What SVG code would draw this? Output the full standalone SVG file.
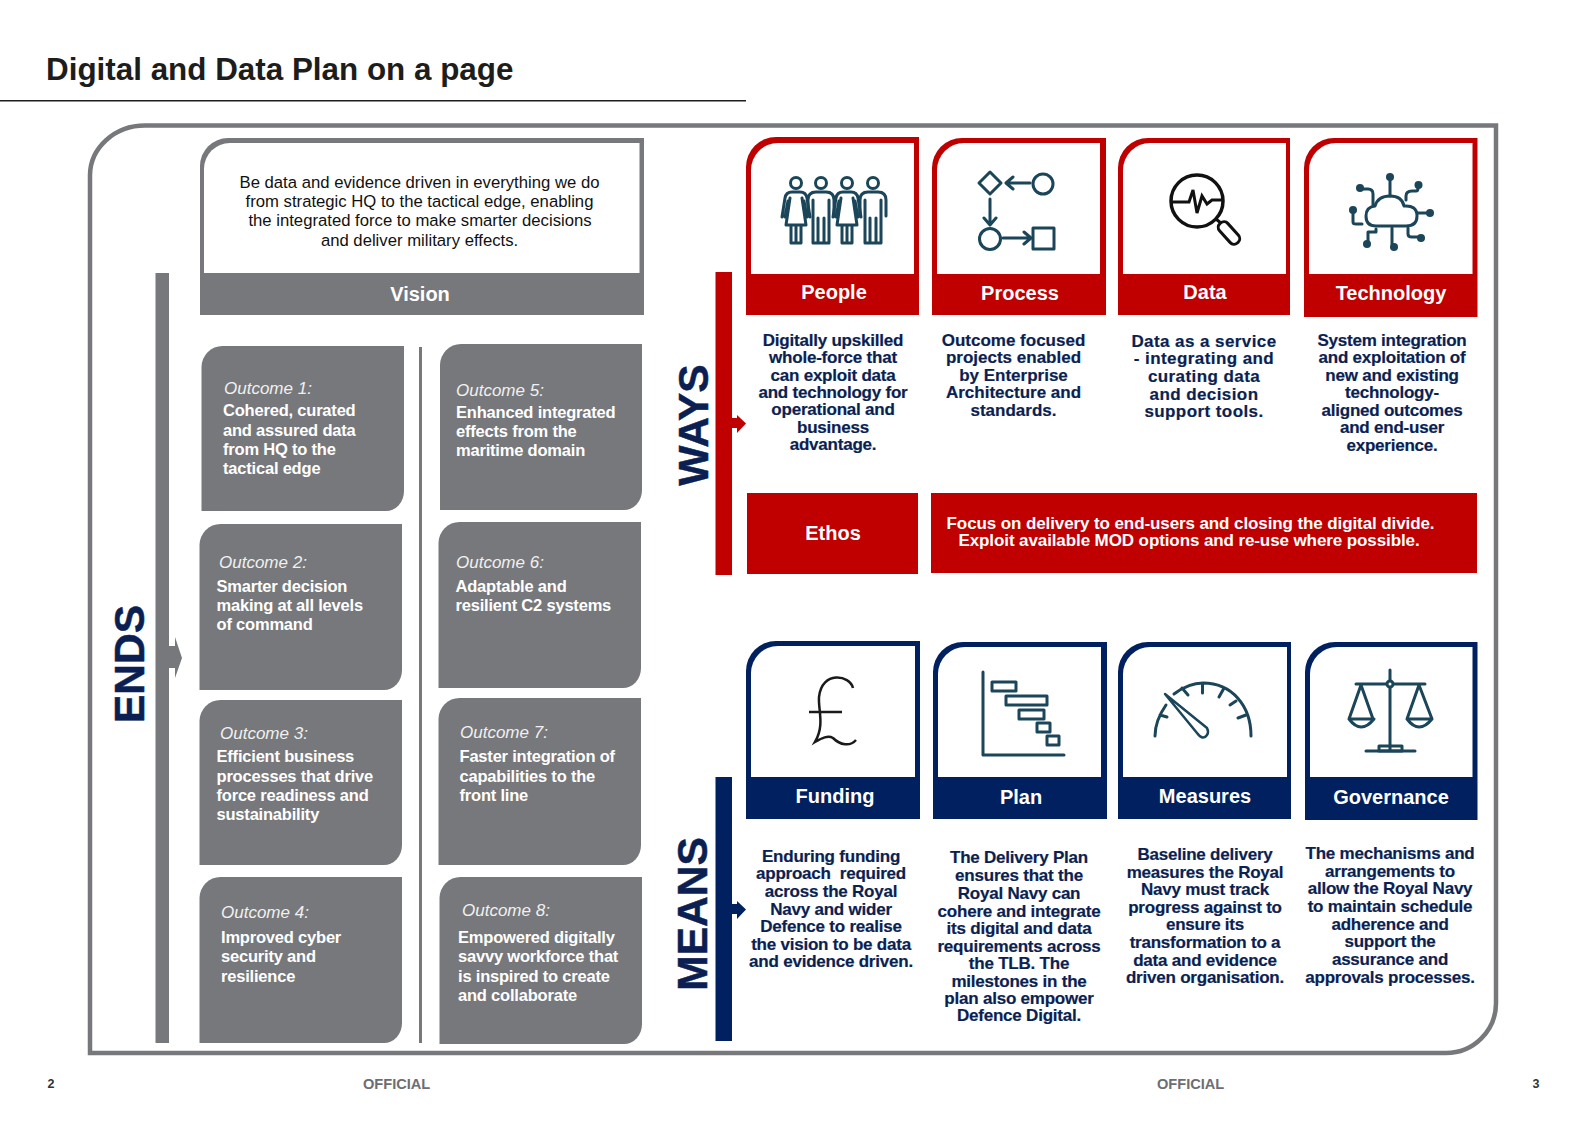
<svg xmlns="http://www.w3.org/2000/svg" xmlns:xlink="http://www.w3.org/1999/xlink" width="1587" height="1122" viewBox="0 0 1587 1122">
<style>
text{font-family:"Liberation Sans",Arial,sans-serif}
.t{font-weight:700;fill:#fff;text-anchor:middle;font-size:20px}
.d{font-weight:700;fill:#0b1f52;text-anchor:middle;font-size:17px;letter-spacing:-.22px;stroke:#0b1f52;stroke-width:.2}
.o{fill:#77787b}
.oh{font-style:italic;fill:#f0f0f0;font-size:17px}
.ob{font-weight:700;fill:#fff;font-size:16.500px;letter-spacing:-.2px}
.big{font-weight:700;font-size:42.500px;text-anchor:middle;fill:#0b1f52;stroke:#0b1f52;stroke-width:.5}
.foot{font-weight:700;fill:#6d6e71;font-size:14.600px}
.ic{fill:none;stroke:#1b4558;stroke-width:3;stroke-linecap:round;stroke-linejoin:round}
.icd{fill:#1b4558;stroke:none}
</style>
<defs>
<g id="woman" class="ic" stroke-width="2.500"><circle cx="0" cy="183" r="5.500"/><path d="M-14 217L-11 198Q-10 192-4 192H4Q10 192 11 198L14 217M-8 201L-11 217M8 201L11 217M-6 198L-10 225H10L6 198M-5 225V243H5V225M0 225V243"/></g>
<g id="man" class="ic" stroke-width="2.500"><circle cx="0" cy="183" r="5.500"/><path d="M-13 216V200Q-13 192-5 192H5Q13 192 13 200V216M-8 200V243H8V200M-3 218V243H3V218"/></g>
</defs>
<rect width="1587" height="1122" fill="#fff"/>
<text x="46" y="80" font-size="31.400" font-weight="700" fill="#1d1d1b">Digital and Data Plan on a page</text>
<rect x="0" y="100" width="746" height="1.500" fill="#1d1d1b"/>
<path id="frame" d="M90 1053V175A55 50 0 0 1 145 125.500H1496V1003A50 50 0 0 1 1446 1053Z" fill="#fff" stroke="#77787b" stroke-width="4.500"/>
<g id="connectors">
<path d="M155.500 273H169V646H175V637L182 658L175 678V668H169V1043H155.500Z" fill="#77787b"/>
<rect x="419" y="347" width="3" height="696" fill="#77787b"/>
<path d="M715.500 272H732V418H737V415L746 423.500L737 433V428H732V575H715.500Z" fill="#c00000"/>
<path d="M715.500 777H732V904H737V901L746 909.500L737 919V914H732V1041H715.500Z" fill="#002060"/>
</g>
<text class="big" transform="translate(144 664) rotate(-90)">ENDS</text>
<text class="big" transform="translate(708 425) rotate(-90)">WAYS</text>
<text class="big" transform="translate(707 914) rotate(-90)">MEANS</text>
<g id="vision">
<path d="M200 315V166A28 28 0 0 1 228 138H644V315Z" fill="#77787b"/>
<path d="M204 273V169A26 26 0 0 1 230 143H639.500V273Z" fill="#fff"/>
<g font-size="16.700" fill="#111" text-anchor="middle">
<text x="419.500" y="188">Be data and evidence driven in everything we do</text>
<text x="419.500" y="207">from strategic HQ to the tactical edge, enabling</text>
<text x="420" y="226">the integrated force to make smarter decisions</text>
<text x="419.500" y="246">and deliver military effects.</text>
</g>
<text class="t" x="420" y="301">Vision</text>
</g>
<g id="outcome1"><path class="o" d="M201.500 511V367A21 21 0 0 1 222.500 346H404V491A18 20 0 0 1 386 511Z"/><text class="oh" x="224" y="394">Outcome 1:</text><text class="ob"><tspan x="223" y="416">Cohered, curated</tspan><tspan x="223" y="436">and assured data</tspan><tspan x="223" y="455">from HQ to the</tspan><tspan x="223" y="474">tactical edge</tspan></text></g>
<g id="outcome5"><path class="o" d="M440 510V365A21 21 0 0 1 461 344H642V490A18 20 0 0 1 624 510Z"/><text class="oh" x="456" y="396">Outcome 5:</text><text class="ob"><tspan x="456" y="418">Enhanced integrated</tspan><tspan x="456" y="437">effects from the</tspan><tspan x="456" y="456">maritime domain</tspan></text></g>
<g id="outcome2"><path class="o" d="M199.500 690V545A21 21 0 0 1 220.500 524H402V670A18 20 0 0 1 384 690Z"/><text class="oh" x="219" y="568">Outcome 2:</text><text class="ob"><tspan x="216.500" y="592">Smarter decision</tspan><tspan x="216.500" y="611">making at all levels</tspan><tspan x="216.500" y="630">of command</tspan></text></g>
<g id="outcome6"><path class="o" d="M438.500 688V543A21 21 0 0 1 459.500 522H641V668A18 20 0 0 1 623 688Z"/><text class="oh" x="456" y="568">Outcome 6:</text><text class="ob"><tspan x="455.500" y="592">Adaptable and</tspan><tspan x="455.500" y="611">resilient C2 systems</tspan></text></g>
<g id="outcome3"><path class="o" d="M199.500 865V721A21 21 0 0 1 220.500 700H402V845A18 20 0 0 1 384 865Z"/><text class="oh" x="220" y="739">Outcome 3:</text><text class="ob"><tspan x="216.500" y="762">Efficient business</tspan><tspan x="216.500" y="782">processes that drive</tspan><tspan x="216.500" y="801">force readiness and</tspan><tspan x="216.500" y="820">sustainability</tspan></text></g>
<g id="outcome7"><path class="o" d="M438.500 865V719A21 21 0 0 1 459.500 698H641V845A18 20 0 0 1 623 865Z"/><text class="oh" x="460" y="738">Outcome 7:</text><text class="ob"><tspan x="459.500" y="762">Faster integration of</tspan><tspan x="459.500" y="782">capabilities to the</tspan><tspan x="459.500" y="801">front line</tspan></text></g>
<g id="outcome4"><path class="o" d="M199.500 1043V898A21 21 0 0 1 220.500 877H402V1023A18 20 0 0 1 384 1043Z"/><text class="oh" x="221" y="918">Outcome 4:</text><text class="ob"><tspan x="221" y="943">Improved cyber</tspan><tspan x="221" y="962">security and</tspan><tspan x="221" y="982">resilience</tspan></text></g>
<g id="outcome8"><path class="o" d="M439.500 1044V898A21 21 0 0 1 460.500 877H642V1024A18 20 0 0 1 624 1044Z"/><text class="oh" x="462" y="916">Outcome 8:</text><text class="ob"><tspan x="458" y="943">Empowered digitally</tspan><tspan x="458" y="962">savvy workforce that</tspan><tspan x="458" y="982">is inspired to create</tspan><tspan x="458" y="1001">and collaborate</tspan></text></g>
<g id="people">
<path d="M746 315V167A30 30 0 0 1 776 137H919V315Z" fill="#c00000"/><path d="M751 274V170A27 27 0 0 1 778 143H914V274Z" fill="#fff"/>
<text class="t" x="834" y="299">People</text>
<use xlink:href="#woman" href="#woman" x="796"/><use xlink:href="#man" href="#man" x="821"/><use xlink:href="#woman" href="#woman" x="847"/><use xlink:href="#man" href="#man" x="873"/>
<text class="d"><tspan x="833" y="346">Digitally upskilled</tspan><tspan x="833" y="363">whole-force that</tspan><tspan x="833" y="381">can exploit data</tspan><tspan x="833" y="398">and technology for</tspan><tspan x="833" y="415">operational and</tspan><tspan x="833" y="433">business</tspan><tspan x="833" y="450">advantage.</tspan></text>
</g>
<g id="process">
<path d="M932 315V168A30 30 0 0 1 962 138H1106V315Z" fill="#c00000"/><path d="M937 274V170A27 27 0 0 1 964 143H1100V274Z" fill="#fff"/>
<text class="t" x="1020" y="300">Process</text>
<g class="ic"><path d="M990 172L1001 183L990 194L979 183Z"/><circle cx="1043" cy="184" r="10"/><circle cx="990" cy="239" r="10.500"/><rect x="1033" y="228" width="21" height="21"/><path d="M1030 183H1007M1013 177L1006 183L1013 189M990 199V224M984 218L990 225L996 218M1003 238H1030M1024 232L1031 238L1024 244"/></g>
<text class="d" style="letter-spacing:0"><tspan x="1013.500" y="346">Outcome focused</tspan><tspan x="1013.500" y="363">projects enabled</tspan><tspan x="1013.500" y="381">by Enterprise</tspan><tspan x="1013.500" y="398">Architecture and</tspan><tspan x="1013.500" y="416">standards.</tspan></text>
</g>
<g id="data">
<path d="M1118 315V168A30 30 0 0 1 1148 138H1290V315Z" fill="#c00000"/><path d="M1123 274V170A27 27 0 0 1 1150 143H1286V274Z" fill="#fff"/>
<text class="t" x="1205" y="299">Data</text>
<g fill="none" stroke="#111" stroke-width="3.500"><circle cx="1197" cy="201" r="26"/><path d="M1171 202H1189L1193 190L1197 213L1202 196L1207 204L1212 200H1223M1216 219L1222 224" stroke-width="3"/></g>
<rect x="-5.500" y="-13" width="11" height="26" rx="5" transform="translate(1229 233) rotate(-42)" fill="#fff" stroke="#111" stroke-width="3"/>
<text class="d" style="letter-spacing:.42px"><tspan x="1204" y="347">Data as a service</tspan><tspan x="1204" y="364">- integrating and</tspan><tspan x="1204" y="382">curating data</tspan><tspan x="1204" y="400">and decision</tspan><tspan x="1204" y="417">support tools.</tspan></text>
</g>
<g id="technology">
<path d="M1304 317V168A30 30 0 0 1 1334 138H1477.500V317Z" fill="#c00000"/><path d="M1309 274V170A27 27 0 0 1 1336 143H1472.500V274Z" fill="#fff"/>
<text class="t" x="1391" y="300">Technology</text>
<g class="ic" stroke-width="2.500"><path d="M1376 226Q1366 226 1366 216Q1366 207 1375 206Q1378 196 1390 196Q1402 196 1404 206Q1417 205 1417 216Q1417 226 1406 226Z"/><path d="M1390 196V180M1373 205V194Q1373 189 1368 189H1362M1406 200V196Q1406 191 1412 191H1416Q1418 191 1418 188M1353 213V222Q1353 224 1356 224H1362M1418 213H1428M1392 228V244M1376 229V232H1368V241M1408 228V234Q1408 237 1412 237H1418"/></g>
<g class="icd"><circle cx="1390" cy="177" r="4"/><circle cx="1360" cy="188" r="4"/><circle cx="1418.500" cy="185" r="4"/><circle cx="1353" cy="210" r="4"/><circle cx="1430" cy="213" r="4"/><circle cx="1367" cy="244" r="4"/><circle cx="1394" cy="247" r="4"/><circle cx="1421" cy="238" r="4"/></g>
<text class="d"><tspan x="1392" y="346">System integration</tspan><tspan x="1392" y="363">and exploitation of</tspan><tspan x="1392" y="381">new and existing</tspan><tspan x="1392" y="398">technology-</tspan><tspan x="1392" y="416">aligned outcomes</tspan><tspan x="1392" y="433">and end-user</tspan><tspan x="1392" y="451">experience.</tspan></text>
</g>
<g id="ethos"><rect x="747" y="493" width="171" height="81" fill="#c00000"/><text class="t" x="833" y="540">Ethos</text></g>
<g id="focus"><rect x="931" y="493" width="546" height="80" fill="#c00000"/><g fill="#fff" font-weight="700" font-size="17" letter-spacing="-.1" text-anchor="middle"><text x="1190.500" y="529">Focus on delivery to end-users and closing the digital divide.</text><text x="1189" y="546">Exploit available MOD options and re-use where possible.</text></g></g>
<g id="funding">
<path d="M746 819V671A30 30 0 0 1 776 641H920V819Z" fill="#002060"/><path d="M751 777V673A27 27 0 0 1 778 646H915V777Z" fill="#fff"/>
<text class="t" x="835" y="803">Funding</text>
<path d="M853 688C850 675 822 670 819 697C818 710 825 725 815 742C822 738 828 735 833 738C840 745 850 747 856 740M809 712H842" fill="none" stroke="#1a1a1a" stroke-width="2.500"/>
<text class="d"><tspan x="831" y="862">Enduring funding</tspan><tspan x="831" y="879" style="white-space:pre">approach  required</tspan><tspan x="831" y="897">across the Royal</tspan><tspan x="831" y="915">Navy and wider</tspan><tspan x="831" y="932">Defence to realise</tspan><tspan x="831" y="950">the vision to be data</tspan><tspan x="831" y="967">and evidence driven.</tspan></text>
</g>
<g id="plan">
<path d="M933 819V672A30 30 0 0 1 963 642H1107V819Z" fill="#002060"/><path d="M938 777V674A27 27 0 0 1 965 647H1101V777Z" fill="#fff"/>
<text class="t" x="1021" y="804">Plan</text>
<g class="ic" stroke-width="2.500"><path d="M983 672V755H1064"/><rect x="992" y="682" width="24" height="9"/><rect x="1006" y="696" width="41" height="9"/><rect x="1019" y="710" width="25" height="9"/><rect x="1037" y="723" width="13" height="9"/><rect x="1047" y="736" width="12" height="9"/></g>
<text class="d"><tspan x="1019" y="863">The Delivery Plan</tspan><tspan x="1019" y="881">ensures that the</tspan><tspan x="1019" y="899">Royal Navy can</tspan><tspan x="1019" y="917">cohere and integrate</tspan><tspan x="1019" y="934">its digital and data</tspan><tspan x="1019" y="952">requirements across</tspan><tspan x="1019" y="969">the TLB. The</tspan><tspan x="1019" y="987">milestones in the</tspan><tspan x="1019" y="1004">plan also empower</tspan><tspan x="1019" y="1021">Defence Digital.</tspan></text>
</g>
<g id="measures">
<path d="M1118 819V672A30 30 0 0 1 1148 642H1291V819Z" fill="#002060"/><path d="M1123 777V674A27 27 0 0 1 1150 647H1287V777Z" fill="#fff"/>
<text class="t" x="1205" y="803">Measures</text>
<g class="ic"><path d="M1174 694C1186 685 1195 683 1203 683C1232 683 1251 706 1251 736M1166 705C1159 715 1155 725 1155 736M1160 715L1167 717M1182 688L1188 695M1202.500 684V693M1223.500 689L1219 697M1236 701L1230 705M1246 715L1238 718"/><path d="M1165 694L1197 733Q1203 741 1207 735Q1209 732 1207 728Z" stroke-width="2.500"/></g>
<text class="d"><tspan x="1205" y="860">Baseline delivery</tspan><tspan x="1205" y="878">measures the Royal</tspan><tspan x="1205" y="895">Navy must track</tspan><tspan x="1205" y="913">progress against to</tspan><tspan x="1205" y="930">ensure its</tspan><tspan x="1205" y="948">transformation to a</tspan><tspan x="1205" y="966">data and evidence</tspan><tspan x="1205" y="983">driven organisation.</tspan></text>
</g>
<g id="governance">
<path d="M1305 820V672A30 30 0 0 1 1335 642H1477.500V820Z" fill="#002060"/><path d="M1310 777V674A27 27 0 0 1 1337 647H1472.500V777Z" fill="#fff"/>
<text class="t" x="1391" y="804">Governance</text>
<g class="ic" stroke-width="2.500"><path d="M1390 670V750M1356 684H1425M1361 685L1349 719M1361 685L1373 719M1419 685L1407 719M1419 685L1432 719M1349 719Q1361 735 1374 719ZM1407 719Q1419 735 1432 719ZM1366 751H1415"/><rect x="1379" y="746" width="23" height="5"/><circle cx="1390" cy="684" r="3" fill="#fff"/></g>
<text class="d"><tspan x="1390" y="859">The mechanisms and</tspan><tspan x="1390" y="877">arrangements to</tspan><tspan x="1390" y="894">allow the Royal Navy</tspan><tspan x="1390" y="912">to maintain schedule</tspan><tspan x="1390" y="930">adherence and</tspan><tspan x="1390" y="947">support the</tspan><tspan x="1390" y="965">assurance and</tspan><tspan x="1390" y="983">approvals processes.</tspan></text>
</g>
<g class="foot"><text x="47.500" y="1088" fill="#333" style="font-size:12.500px">2</text><text x="363" y="1089">OFFICIAL</text><text x="1157" y="1089">OFFICIAL</text><text x="1532.500" y="1088" fill="#333" style="font-size:12.500px">3</text></g>
</svg>
